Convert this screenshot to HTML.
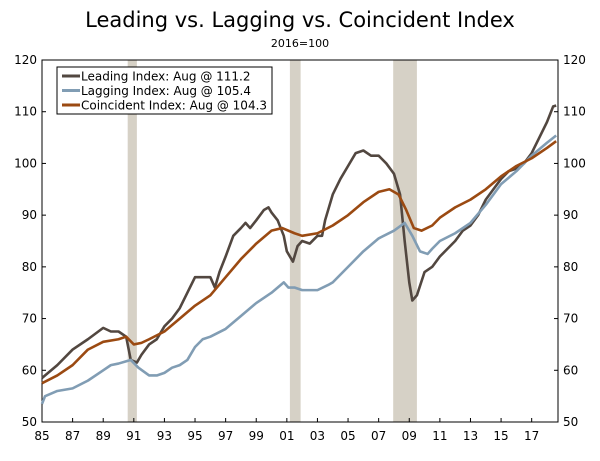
<!DOCTYPE html>
<html><head><meta charset="utf-8"><style>
body{margin:0;background:#fff;font-family:"Liberation Sans","DejaVu Sans",sans-serif}
svg text{font-family:"DejaVu Sans","Liberation Sans",sans-serif}
</style></head><body>
<svg id="c" width="600" height="456" viewBox="0 0 600 456">
<text x="300" y="27" text-anchor="middle" font-size="21" fill="#000">Leading vs. Lagging vs. Coincident Index</text>
<text x="300" y="47" text-anchor="middle" font-size="11" fill="#000">2016=100</text>
</svg>
<script>
const xTicks=[1985,1987,1989,1991,1993,1995,1997,1999,2001,2003,2005,2007,2009,2011,2013,2015,2017];
const yTicks=[50,60,70,80,90,100,110,120];
const recessions=[[1990.6,1991.2],[2001.2,2001.9],[2007.95,2009.5]];
const leadX=[1985,1986,1987,1988,1989,1989.5,1990,1990.5,1990.8,1991.2,1991.5,1992,1992.5,1993,1993.5,1994,1994.5,1995,1995.5,1996,1996.3,1996.6,1997,1997.5,1998,1998.3,1998.6,1999,1999.5,1999.8,2000,2000.4,2000.8,2001,2001.4,2001.7,2002,2002.5,2003,2003.3,2003.5,2004,2004.5,2005,2005.5,2006,2006.5,2007,2007.5,2008,2008.4,2008.7,2009,2009.2,2009.5,2010,2010.5,2011,2011.5,2012,2012.5,2013,2013.5,2014,2014.5,2015,2015.5,2016,2016.5,2017,2017.5,2018,2018.4,2018.6];
const leadY=[58.5,61,64,66,68.2,67.5,67.5,66.5,62,61.5,63,65,66,68.5,70,72,75,78,78,78,76,79,82,86,87.5,88.5,87.5,89,91,91.5,90.5,89,86,83,81,84,85,84.5,86,86,89,94,97,99.5,102,102.5,101.5,101.5,100,98,94,85,77,73.5,74.5,79,80,82,83.5,85,87,88,90,93,95,97,98.5,99,100,102,105,108,111,111.2];
const lagX=[1985,1985.2,1986,1987,1988,1989,1989.5,1990,1990.8,1991.3,1992,1992.5,1993,1993.5,1994,1994.5,1995,1995.5,1996,1997,1998,1999,2000,2000.8,2001.1,2001.5,2002,2003,2003.7,2004,2005,2006,2007,2008,2008.7,2009.2,2009.7,2010.2,2010.5,2011,2012,2013,2014,2015,2016,2017,2018,2018.6];
const lagY=[53.5,55,56,56.5,58,60,61,61.3,62,60.5,59,59,59.5,60.5,61,62,64.5,66,66.5,68,70.5,73,75,77,76,76,75.5,75.5,76.5,77,80,83,85.5,87,88.5,86,83,82.5,83.5,85,86.5,88.5,92,96,98.5,101.5,104,105.4];
const coinX=[1985,1986,1987,1988,1989,1990,1990.5,1991,1991.5,1992,1993,1994,1995,1996,1997,1998,1999,2000,2000.7,2001.5,2002,2003,2004,2005,2006,2007,2007.7,2008.3,2008.8,2009.3,2009.8,2010.5,2011,2012,2013,2014,2015,2016,2017,2018,2018.6];
const coinY=[57.5,59,61,64,65.5,66,66.5,65,65.3,66,67.5,70,72.5,74.5,78,81.5,84.5,87,87.5,86.5,86,86.5,88,90,92.5,94.5,95,94,91,87.5,87,88,89.5,91.5,93,95,97.5,99.5,101,103,104.3];
const series=[
 {name:'leading-index-line',x:leadX,y:leadY,color:'#524740',label:'Leading Index: Aug @ 111.2'},
 {name:'lagging-index-line',x:lagX,y:lagY,color:'#819db4',label:'Lagging Index: Aug @ 105.4'},
 {name:'coincident-index-line',x:coinX,y:coinY,color:'#9b4a12',label:'Coincident Index: Aug @ 104.3'}];
const L=42,R=558,T=60,B=422,X0=1985,X1=2018.72;
const sx=v=>L+(v-X0)/(X1-X0)*(R-L);
const sy=v=>B-(v-50)/70*(B-T);
const svg=document.getElementById('c');const NS='http://www.w3.org/2000/svg';
function mk(t,a){const e=document.createElementNS(NS,t);for(const k in a)e.setAttribute(k,a[k]);svg.appendChild(e);return e;}
recessions.forEach(r=>{const e=mk('rect',{x:sx(r[0]),y:T,width:sx(r[1])-sx(r[0]),height:B-T,fill:'#d6d1c6'});

});
const fr=mk('rect',{x:L,y:T,width:R-L,height:B-T,fill:'none',stroke:'#000','stroke-width':1});


yTicks.forEach(v=>{
 const a=mk('text',{x:L-5,y:sy(v)+4,'text-anchor':'end','font-size':12});a.textContent=v;
 
 
 const b=mk('text',{x:R+5,y:sy(v)+4,'text-anchor':'start','font-size':12});b.textContent=v;
 
 
 mk('line',{x1:L,x2:L+4,y1:sy(v),y2:sy(v),stroke:'#000'});mk('line',{x1:R-4,x2:R,y1:sy(v),y2:sy(v),stroke:'#000'});
});
xTicks.forEach(v=>{
 mk('line',{x1:sx(v),x2:sx(v),y1:B,y2:B-4,stroke:'#000'});
 const a=mk('text',{x:sx(v),y:B+18,'text-anchor':'middle','font-size':12});a.textContent=String(v).slice(2);
 
 
});
series.forEach(s=>{
 const p=mk('polyline',{points:s.x.map((x,i)=>sx(x)+','+sy(s.y[i])).join(' '),fill:'none',stroke:s.color,'stroke-width':2.6,'stroke-linejoin':'round'});
 
 
});
const lg=mk('rect',{x:57,y:67,width:215,height:47,fill:'#fff',stroke:'#000','stroke-width':1});


series.forEach((s,i)=>{
 const y=76+i*14.5;
 mk('line',{x1:62,x2:80,y1:y,y2:y,stroke:s.color,'stroke-width':3});
 const t=mk('text',{x:81,y:y+4.5,'font-size':12});t.textContent=s.label;
 
 
});
</script>
</body></html>
